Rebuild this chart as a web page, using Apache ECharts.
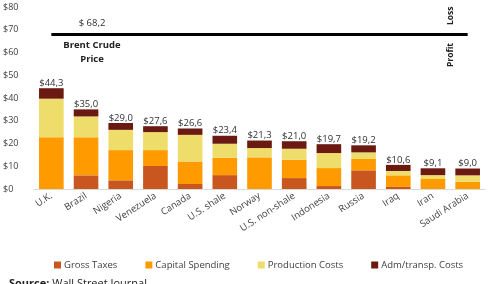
<!DOCTYPE html>
<html>
<head>
<meta charset="utf-8">
<script src="https://cdn.jsdelivr.net/npm/echarts@6/dist/echarts.min.js"></script>
<style>
  html, body { margin: 0; padding: 0; background: #fff; }
  #chart { width: 489px; height: 284px; }
</style>
</head>
<body>
<div id="chart"></div>
<script>
const countries = ['U.K.', 'Brazil', 'Nigeria', 'Venezuela', 'Canada', 'U.S. shale', 'Norway',
  'U.S. non-shale', 'Indonesia', 'Russia', 'Iraq', 'Iran', 'Saudi Arabia']
const grossTaxes = [0, 6.0, 3.8, 10.1, 2.2, 6.1, 0, 4.8, 1.3, 8.2, 0.9, 0, 0]
const capitalSpending = [22.7, 16.7, 13.3, 7.0, 9.9, 7.6, 13.9, 8.1, 7.9, 5.0, 5.1, 4.4, 3.2]
const productionCosts = [17.0, 9.2, 8.9, 7.9, 11.7, 6.2, 4.1, 4.8, 6.6, 2.9, 1.9, 1.7, 2.8]
const admCosts = [4.6, 3.1, 3.0, 2.6, 2.8, 3.5, 3.3, 3.3, 3.9, 3.1, 2.7, 3.0, 3.0]
const totals = [44.3, 35.0, 29.0, 27.6, 26.6, 23.4, 21.3, 21.0, 19.7, 19.2, 10.6, 9.1, 9.0]
const brentPrice = 68.2
const yTicks = [0, 10, 20, 30, 40, 50, 60, 70, 80]

const fmt = (v) => '$' + v.toFixed(1).replace('.', ',')
const font = '"Open Sans", "Liberation Sans", Arial, sans-serif'

const chart = echarts.init(document.getElementById('chart'))

function barSeries(name, data, color) {
  return {
    name,
    type: 'bar',
    stack: 'cost',
    barWidth: '71%',
    data,
    itemStyle: { color },
  }
}

chart.setOption({
  animation: false,
  textStyle: { fontFamily: font },
  grid: { left: 32, right: 4, top: 7, bottom: 95 },
  legend: {
    data: ['Gross Taxes', 'Capital Spending', 'Production Costs', 'Adm/transp. Costs'],
    left: 49,
    top: 255,
    itemWidth: 7,
    itemHeight: 7,
    itemGap: 28,
    icon: 'rect',
    textStyle: { fontSize: 9.5, color: '#404040', fontFamily: font, padding: [0, 0, 0, -2] },
  },
  xAxis: {
    type: 'category',
    data: countries,
    axisTick: { show: false },
    axisLine: { lineStyle: { color: '#d9d9d9' } },
    axisLabel: { rotate: 33, fontSize: 9.5, color: '#404040', margin: 6, interval: 0, fontFamily: font },
  },
  yAxis: {
    type: 'value',
    min: yTicks[0],
    max: yTicks[yTicks.length - 1],
    interval: 10,
    splitLine: { show: false },
    axisLine: { show: false },
    axisTick: { show: false },
    axisLabel: {
      fontSize: 9,
      color: '#404040',
      align: 'left',
      margin: 31,
      fontFamily: font,
      formatter: (v) => '$' + v,
    },
  },
  series: [
    barSeries('Gross Taxes', grossTaxes, '#c8561e'),
    barSeries('Capital Spending', capitalSpending, '#ff9a00'),
    barSeries('Production Costs', productionCosts, '#eedd6a'),
    Object.assign(barSeries('Adm/transp. Costs', admCosts, '#6b1a12'), {
      label: {
        show: true,
        position: 'top',
        distance: 0,
        fontSize: 9.5,
        color: '#303030',
        fontFamily: font,
        formatter: (p) => fmt(totals[p.dataIndex]),
      },
      markLine: {
        silent: true,
        symbol: 'none',
        label: { show: false },
        lineStyle: { color: '#000', width: 3, type: 'solid' },
        data: [[{ coord: [countries[0], brentPrice] }, { coord: [countries[countries.length - 1], brentPrice] }]],
      },
    }),
  ],
  graphic: [
    { type: 'text', x: 92, y: 18, style: { text: '$ 68,2', align: 'center', fill: '#303030', font: '9.5px ' + font } },
    { type: 'text', x: 92, y: 38, style: { text: 'Brent Crude\nPrice', align: 'center', lineHeight: 14, fill: '#222', font: 'bold 9.5px ' + font } },
    { type: 'text', x: 446, y: 25, rotation: Math.PI / 2, style: { text: 'Loss', fill: '#222', font: 'bold 8.5px ' + font } },
    { type: 'text', x: 446, y: 67, rotation: Math.PI / 2, style: { text: 'Profit', fill: '#222', font: 'bold 8.5px ' + font } },
    { type: 'text', x: 9, y: 278, style: { text: '{b|Source:} Wall Street Journal', rich: { b: { fontWeight: 'bold', fontSize: 11, fill: '#222', fontFamily: font } }, fill: '#222', font: '11px ' + font } },
  ],
})
</script>
</body>
</html>
